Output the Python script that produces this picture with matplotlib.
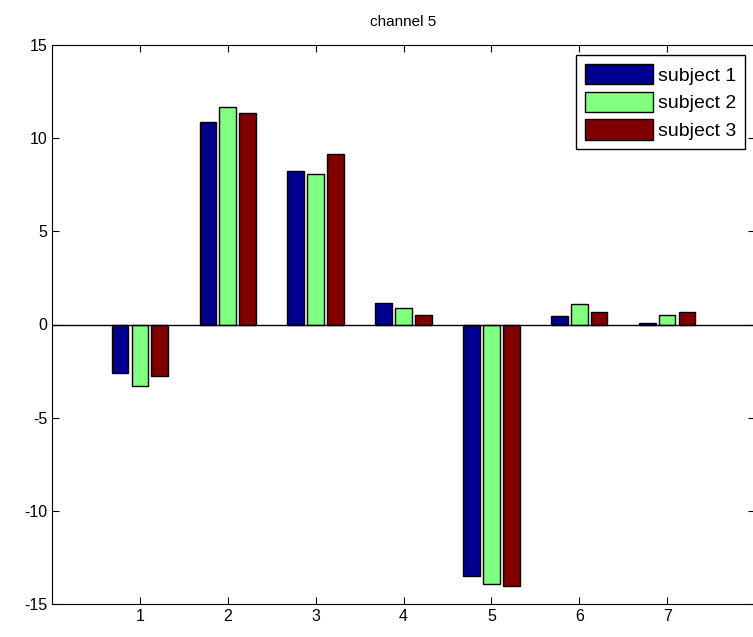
import numpy as np
import matplotlib
matplotlib.use("Agg")
import matplotlib.pyplot as plt

plt.rcParams["font.family"] = ["Liberation Sans", "DejaVu Sans"]
plt.rcParams["axes.unicode_minus"] = False

channels = [1, 2, 3, 4, 5, 6, 7]
subject_1 = [-2.6, 10.87, 8.26, 1.14, -13.5, 0.44, 0.1]
subject_2 = [-3.3, 11.67, 8.08, 0.87, -13.95, 1.1, 0.51]
subject_3 = [-2.76, 11.35, 9.13, 0.53, -14.02, 0.69, 0.69]
labels = ["subject 1", "subject 2", "subject 3"]
colors = ["#00008F", "#80FF80", "#800000"]

fig = plt.figure(figsize=(7.53, 6.37), dpi=100)
ax = fig.add_axes([52 / 753, 33 / 637, 703 / 753, 559 / 637])

x = np.array(channels)
width = 0.19
step = 0.226
for i, (vals, lab, col) in enumerate(zip([subject_1, subject_2, subject_3], labels, colors)):
    ax.bar(x + (i - 1) * step, vals, width, color=col, edgecolor="black",
           linewidth=1.0, label=lab, zorder=2)

ax.axhline(0, color="black", linewidth=1.0, zorder=3)
ax.set_xlim(0, 8)
ax.set_ylim(-15, 15)
ax.set_xticks(channels)
ax.set_yticks([-15, -10, -5, 0, 5, 10, 15])
ax.tick_params(direction="in", top=True, right=True, labelsize=11.5, length=5)
ax.set_title("channel 5", fontsize=11, pad=14)

leg = ax.legend(loc="upper right", bbox_to_anchor=(0.9858, 0.982), fontsize=14,
                fancybox=False, framealpha=1, edgecolor="black",
                handlelength=3.5, handleheight=1.25, borderpad=0.45,
                labelspacing=0.36, handletextpad=0.25, borderaxespad=0)
leg.get_frame().set_linewidth(1.0)

fig.savefig("out.png", dpi=100)
